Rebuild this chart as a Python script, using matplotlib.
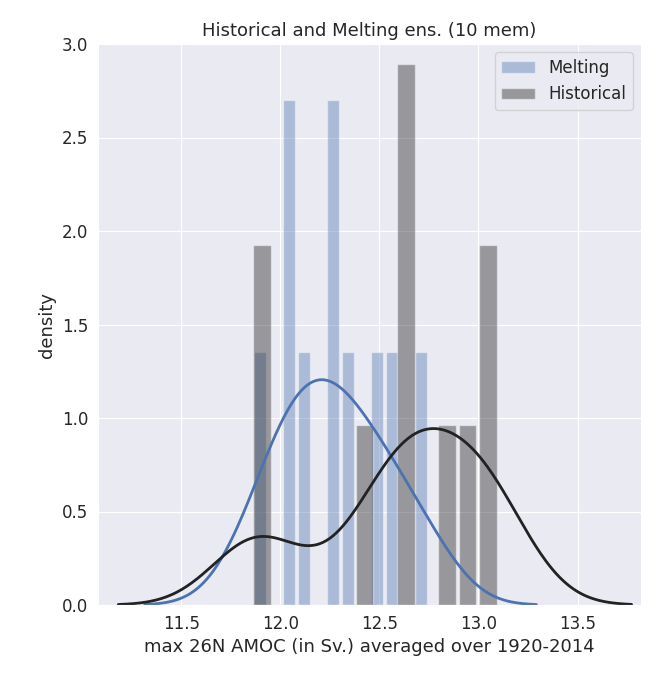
import matplotlib
matplotlib.use("Agg")
import matplotlib.pyplot as plt
import numpy as np
import seaborn as sns

sns.set_style("darkgrid")

# ensemble members, max 26N AMOC (Sv) averaged over 1920-2014
melting = [11.86, 12.03, 12.05, 12.12, 12.25, 12.28, 12.34, 12.49, 12.56, 12.748]
historical = [11.855, 11.92, 12.42, 12.62, 12.64, 12.66, 12.84, 12.95, 13.05, 13.10]
n_bins = 12


def kde(vals, cut=3):
    # statsmodels-style Scott bandwidth, as seaborn's distplot used
    vals = np.asarray(vals)
    q75, q25 = np.percentile(vals, [75, 25])
    a = min(vals.std(ddof=1), (q75 - q25) / 1.349)
    bw = 1.059 * a * len(vals) ** (-1 / 5)
    grid = np.linspace(vals.min() - cut * bw, vals.max() + cut * bw, 300)
    dens = np.exp(-0.5 * ((grid[:, None] - vals[None, :]) / bw) ** 2).sum(1)
    dens /= len(vals) * bw * np.sqrt(2 * np.pi)
    return grid, dens


fig = plt.figure(figsize=(6.6, 6.82), dpi=100)
ax = fig.add_axes([98 / 660, 77 / 682, 543 / 660, 561 / 682])

ax.hist(melting, bins=n_bins, density=True, rwidth=0.82, color="#4c72b0", alpha=0.4, label="Melting")
ax.hist(historical, bins=n_bins, density=True, rwidth=0.85, color="#333333", alpha=0.45, label="Historical")
x, d = kde(melting)
ax.plot(x, d, color="#4c72b0", lw=2)
x, d = kde(historical)
ax.plot(x, d, color="#222222", lw=2)

ax.set_ylim(0, 3.0)
ax.set_xlim(11.08, 13.82)
ax.set_xticks([11.5, 12.0, 12.5, 13.0, 13.5])
ax.set_ylabel("density", fontsize=13)
ax.set_xlabel("max 26N AMOC (in Sv.) averaged over 1920-2014", fontsize=13)
ax.set_title("Historical and Melting ens. (10 mem)", fontsize=13)
ax.tick_params(labelsize=12)
ax.legend(loc="upper right", fontsize=12)

fig.savefig("out.png", dpi=100)
